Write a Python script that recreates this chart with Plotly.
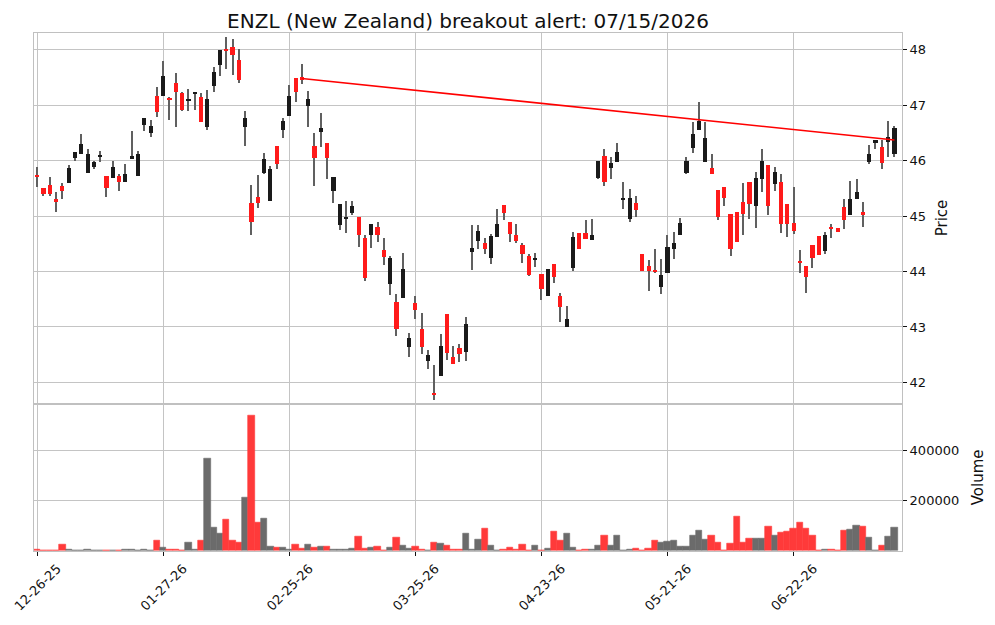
import pandas as pd
import plotly.graph_objects as go

# ---------------- data ----------------
holidays = ['2026-01-01', '2026-01-19', '2026-02-16', '2026-04-03',
            '2026-05-25', '2026-06-19', '2026-07-03']
dates = pd.bdate_range('2025-12-26', '2026-07-15', freq='C', holidays=holidays)

opens = [
    45.73, 45.51, 45.56, 45.31, 45.55, 45.60, 46.04, 46.11, 45.77, 45.89,
    46.07, 45.72, 45.68, 45.72, 45.62, 46.02, 45.73, 46.65, 46.49, 47.17,
    47.17, 47.12, 47.39, 47.22, 47.07, 47.21, 47.15, 46.60, 47.34, 47.73,
    48.00, 48.05, 47.82, 46.61, 45.23, 45.34, 45.77, 45.28, 46.27, 46.56,
    46.81, 47.48, 47.50, 46.98, 46.27, 46.52, 46.32, 45.46, 44.84, 44.95,
    45.06, 44.98, 44.60, 44.66, 44.81, 44.39, 43.78, 43.45, 43.52, 42.64,
    43.43, 42.96, 42.39, 41.81, 42.11, 43.23, 42.45, 42.63, 42.55, 44.36,
    44.55, 44.51, 44.25, 44.63, 45.20, 44.89, 44.66, 44.48, 44.28, 44.21,
    43.95, 43.56, 44.13, 43.55, 43.00, 44.07, 44.69, 44.69, 44.57, 45.69,
    46.08, 45.86, 45.98, 45.30, 44.95, 45.24, 44.31, 44.10, 44.02, 43.72,
    43.98, 44.41, 44.66, 45.78, 46.22, 46.56, 45.98, 45.87, 45.47, 45.52,
    45.04, 45.07, 45.25, 45.61, 45.19, 45.66, 45.92, 45.58, 45.61, 45.22,
    44.87, 44.19, 44.10, 44.48, 44.64, 44.37, 44.79, 44.78, 45.16, 45.02,
    45.31, 45.07, 45.98, 46.31, 46.25, 46.33, 46.11]

highs = [
    45.89, 45.51, 45.71, 45.43, 45.59, 45.92, 46.16, 46.48, 46.21, 45.99,
    46.17, 45.72, 45.99, 45.76, 45.94, 46.54, 46.18, 46.77, 46.73, 47.33,
    47.80, 47.14, 47.58, 47.24, 47.29, 47.24, 47.22, 47.27, 47.69, 47.99,
    48.23, 48.19, 48.02, 46.89, 45.56, 45.74, 46.14, 45.90, 46.27, 46.77,
    47.37, 47.48, 47.75, 47.25, 46.49, 46.86, 46.32, 45.71, 45.22, 45.27,
    45.28, 44.98, 44.65, 44.86, 44.90, 44.60, 44.28, 43.60, 44.33, 42.89,
    43.55, 43.26, 42.59, 42.32, 42.88, 43.23, 42.66, 42.70, 43.18, 44.84,
    44.84, 44.60, 44.68, 45.12, 45.20, 44.89, 44.85, 44.52, 44.32, 44.34,
    43.95, 44.04, 44.13, 43.61, 43.37, 44.71, 44.69, 44.92, 44.95, 45.99,
    46.21, 46.07, 46.31, 45.61, 45.48, 45.37, 44.31, 44.20, 44.40, 44.22,
    44.66, 44.71, 44.96, 46.07, 46.69, 47.06, 46.70, 46.11, 45.47, 45.52,
    45.04, 45.07, 45.59, 45.61, 45.79, 46.21, 45.92, 45.89, 45.75, 45.22,
    45.52, 44.38, 44.10, 44.48, 44.64, 44.72, 44.85, 44.78, 45.31, 45.63,
    45.66, 45.25, 46.28, 46.38, 46.38, 46.72, 46.63]

lows = [
    45.53, 45.37, 45.37, 45.07, 45.30, 45.60, 46.00, 46.11, 45.77, 45.84,
    45.97, 45.34, 45.68, 45.45, 45.62, 46.02, 45.73, 46.54, 46.42, 46.78,
    47.17, 46.74, 46.61, 46.89, 46.89, 46.92, 46.70, 46.55, 47.23, 47.52,
    47.65, 47.54, 47.39, 46.26, 44.65, 45.14, 45.75, 45.28, 45.84, 46.40,
    46.81, 47.05, 47.38, 46.61, 45.54, 46.24, 45.66, 45.23, 44.74, 44.69,
    45.01, 44.45, 43.83, 44.42, 44.54, 44.11, 43.57, 42.84, 43.52, 42.45,
    43.15, 42.52, 42.25, 41.69, 42.11, 42.40, 42.34, 42.37, 42.38, 44.02,
    44.40, 44.31, 44.13, 44.63, 44.92, 44.54, 44.51, 44.16, 43.92, 44.08,
    43.49, 43.56, 43.80, 43.09, 43.00, 44.01, 44.41, 44.58, 44.57, 45.67,
    45.55, 45.66, 45.98, 45.12, 44.90, 44.99, 44.01, 43.64, 43.98, 43.60,
    43.98, 44.22, 44.66, 45.75, 46.14, 46.56, 45.98, 45.75, 44.93, 45.18,
    44.28, 44.54, 44.65, 44.95, 44.78, 45.44, 45.01, 45.46, 44.69, 44.63,
    44.67, 43.98, 43.62, 44.07, 44.30, 44.31, 44.61, 44.72, 44.77, 45.02,
    45.31, 44.81, 45.93, 46.21, 45.84, 46.07, 46.07]

closes = [
    45.71, 45.40, 45.40, 45.26, 45.46, 45.87, 46.16, 46.30, 46.12, 45.98,
    46.10, 45.51, 45.89, 45.62, 45.76, 46.08, 46.12, 46.77, 46.63, 46.87,
    47.53, 47.10, 47.23, 46.92, 47.11, 47.24, 46.70, 47.11, 47.60, 47.99,
    47.99, 47.90, 47.45, 46.77, 44.90, 45.24, 46.03, 45.85, 45.93, 46.72,
    47.17, 47.23, 47.47, 47.11, 46.04, 46.58, 46.05, 45.71, 45.22, 44.98,
    45.18, 44.66, 43.89, 44.86, 44.66, 44.27, 44.24, 42.96, 44.04, 42.81,
    43.31, 42.64, 42.49, 41.79, 42.65, 42.53, 42.34, 42.52, 43.05, 44.42,
    44.73, 44.41, 44.64, 44.86, 45.05, 44.68, 44.55, 44.32, 43.93, 44.24,
    43.69, 44.04, 43.90, 43.36, 43.14, 44.62, 44.41, 44.59, 44.66, 45.99,
    45.61, 45.96, 46.15, 45.32, 45.32, 45.11, 44.01, 44.01, 44.00, 43.93,
    44.44, 44.51, 44.87, 45.99, 46.48, 46.72, 46.41, 45.75, 44.98, 45.33,
    44.41, 44.54, 45.04, 45.22, 45.69, 45.99, 45.19, 45.80, 44.86, 44.86,
    44.73, 44.16, 43.90, 44.25, 44.30, 44.66, 44.77, 44.72, 44.93, 45.31,
    45.43, 45.01, 46.12, 46.38, 45.96, 46.42, 46.59]

volumes = [
    5000, 1300, 1300, 1300, 26700, 6700, 1300, 1300, 6700, 1300,
    1300, 1300, 1300, 1300, 6700, 6700, 1300, 6700, 1300, 42700,
    14700, 6700, 6700, 1300, 34700, 6700, 42700, 366700, 94700, 70700,
    126700, 42700, 34700, 210700, 538700, 114700, 130700, 18700, 14700, 14700,
    6700, 26700, 10700, 26700, 14700, 18700, 18700, 6700, 6700, 6700,
    10700, 58700, 10700, 14700, 18700, 1300, 14700, 54700, 22700, 10700,
    18700, 6700, 1300, 34700, 30700, 22700, 6700, 6700, 70700, 6700,
    46700, 90700, 22700, 1300, 6700, 14700, 6700, 26700, 1300, 22700,
    1300, 10700, 78700, 42700, 70700, 14700, 1300, 6700, 6700, 22700,
    62700, 22700, 62700, 1300, 6700, 10700, 1300, 10700, 42700, 34700,
    38700, 42700, 18700, 18700, 62700, 82700, 46700, 62700, 34700, 1300,
    30700, 138700, 34700, 50700, 50700, 50700, 98700, 62700, 74700, 78700,
    90700, 114700, 90700, 62700, 1300, 6700, 6700, 1300, 82700, 86700,
    102700, 98700, 54700, 1300, 22700, 58700, 94700]

trend_dates = ['2026-02-27', '2026-07-15']
trend_values = [47.48, 46.37]

title_text = 'ENZL (New Zealand) breakout alert: 07/15/2026'

# ---------------- derived ----------------
n = len(dates)
xs = list(range(n))
tick_idx = xs[::20]
tick_text = [dates[i].strftime('%m-%d-%y') for i in tick_idx]
trend_x = [dates.get_loc(pd.Timestamp(d)) for d in trend_dates]

up = [c >= o for o, c in zip(opens, closes)]
body_base = [min(o, c) for o, c in zip(opens, closes)]
body_h = [max(abs(c - o), 0.02) for o, c in zip(opens, closes)]
body_col = ['#1a1a1a' if u else '#ff1a1a' for u in up]
vol_col = ['#6b6b6b' if u else '#ff3a3a' for u in up]
wick_h = [h - l for h, l in zip(highs, lows)]

FONT = 'DejaVu Sans'
GRID = '#c4c4c4'
FRAME = '#c0c0c0'

fig = go.Figure()
fig.add_trace(go.Bar(x=xs, y=wick_h, base=lows, width=0.17,
                     marker=dict(color='#606060', line=dict(width=0)),
                     xaxis='x', yaxis='y', showlegend=False))
fig.add_trace(go.Bar(x=xs, y=body_h, base=body_base, width=0.66,
                     marker=dict(color=body_col, line=dict(width=0)),
                     xaxis='x', yaxis='y', showlegend=False))
fig.add_trace(go.Scatter(x=trend_x, y=trend_values, mode='lines',
                         line=dict(color='#ff0000', width=1.6),
                         xaxis='x', yaxis='y', showlegend=False))
fig.add_trace(go.Bar(x=xs, y=volumes, width=1.0,
                     marker=dict(color=vol_col, line=dict(color=vol_col, width=0.6)),
                     xaxis='x2', yaxis='y2', showlegend=False))

split = 0.2847
common_x = dict(range=[-0.5, 137.2], tickvals=tick_idx, showgrid=True,
                gridcolor=GRID, gridwidth=1, showline=True, mirror=True,
                linecolor=FRAME, linewidth=1, zeroline=False)

fig.update_layout(
    width=995, height=625,
    margin=dict(l=34, r=93, t=33, b=74),
    paper_bgcolor='white', plot_bgcolor='white',
    barmode='overlay', bargap=0,
    font=dict(family=FONT, size=13, color='#111111'),
    title=dict(text=title_text, x=0.5, xref='paper', xanchor='center',
               y=1 - 21 / 625, yref='container', yanchor='middle',
               font=dict(family=FONT, size=20, color='#111111')),
    xaxis=dict(domain=[0, 1], anchor='y', showticklabels=False, ticks='',
               **common_x),
    xaxis2=dict(domain=[0, 1], anchor='y2', matches='x', ticks='outside',
                ticklen=4, tickcolor='#111111', ticktext=tick_text,
                tickangle=-45, ticklabelshift=20, **common_x),
    yaxis=dict(domain=[split, 1], anchor='x', side='right',
               range=[41.62, 48.30], dtick=1, tick0=42, ticks='outside',
               ticklen=4, tickcolor='#111111', showgrid=True, gridcolor=GRID,
               showline=True, mirror=True, linecolor=FRAME, zeroline=False),
    yaxis2=dict(domain=[0, split], anchor='x2', side='right',
                range=[0, 585000], tickvals=[200000, 400000],
                ticktext=['200000', '400000'], ticks='outside', ticklen=4,
                tickcolor='#111111', showgrid=True, gridcolor=GRID,
                showline=True, mirror=True, linecolor=FRAME, zeroline=False),
    annotations=[
        dict(text='Price', xref='paper', yref='paper', x=(942 - 34) / 868,
             y=(split + 1) / 2, textangle=-90, showarrow=False,
             xanchor='center', yanchor='middle',
             font=dict(family=FONT, size=15, color='#111111')),
        dict(text='Volume', xref='paper', yref='paper', x=(978 - 34) / 868,
             y=split / 2, textangle=-90, showarrow=False,
             xanchor='center', yanchor='middle',
             font=dict(family=FONT, size=15, color='#111111')),
    ],
)

fig.write_html('out.html')
